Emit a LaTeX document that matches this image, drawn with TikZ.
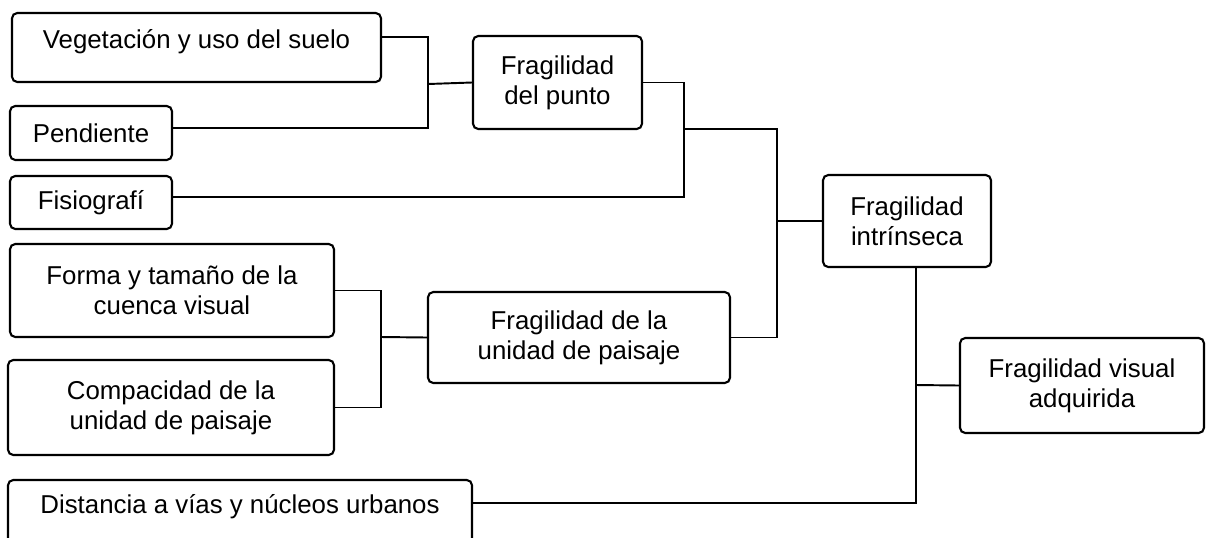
\documentclass[tikz,border=0pt]{standalone}
\usepackage{fontspec}
\setmainfont{Liberation Sans}

\begin{document}
\begin{tikzpicture}[x=0.2mm, y=-0.2mm,
  box/.style={draw, line width=1.2pt, rounded corners=3pt, align=center, inner sep=0pt, font=\fontsize{14.7}{17.1}\selectfont},
  link/.style={line width=1.1pt}]
\useasboundingbox (0,0) rectangle (1208,537);
\node[box, minimum width=7.38cm, minimum height=1.38cm, text depth=3.3mm] (veg) at (196.5,47.5) {Vegetación y uso del suelo};
\node[box, minimum width=3.24cm, minimum height=1.08cm] (pend) at (91,133) {Pendiente};
\node[box, minimum width=3.24cm, minimum height=1.06cm] (fisio) at (91,202.5) {Fisiografí};
\node[box, minimum width=6.48cm, minimum height=1.86cm] (forma) at (172,290.5) {Forma y tamaño de la\\cuenca visual};
\node[box, minimum width=6.52cm, minimum height=1.90cm] (compa) at (171,407.5) {Compacidad de la\\unidad de paisaje};
\node[box, minimum width=9.28cm, minimum height=1.30cm, text depth=3.3mm] (dist) at (240,512.5) {Distancia a vías y núcleos urbanos};
\node[box, minimum width=3.38cm, minimum height=1.86cm] (punto) at (557.5,82.5) {Fragilidad\\del punto};
\node[box, minimum width=6.04cm, minimum height=1.82cm] (paisaje) at (579,337.5) {Fragilidad de la\\unidad de paisaje};
\node[box, minimum width=3.36cm, minimum height=1.84cm] (intr) at (907,221) {Fragilidad\\intrínseca};
\node[box, minimum width=4.88cm, minimum height=1.90cm] (adq) at (1082,385.5) {Fragilidad visual\\adquirida};

\coordinate (j1) at (428,84);
\coordinate (j2) at (684,129);
\coordinate (j3) at (777,221);
\coordinate (j4) at (381,337);
\coordinate (j5) at (916,385);

\draw[link] ([yshift=2.1mm]veg.east) -| (j1) |- ([yshift=1mm]pend.east);
\draw[link] (j1) -- (punto.west);
\draw[link] (punto.east) -| (j2) |- ([yshift=1.1mm]fisio.east);
\draw[link] (j2) -| (j3) |- (paisaje.east);
\draw[link] (j3) -- (intr.west);
\draw[link] (forma.east) -| (j4) |- (compa.east);
\draw[link] (j4) -- (paisaje.west);
\draw[link] ([xshift=1.8mm]intr.south) |- ([yshift=1.9mm]dist.east);
\draw[link] (j5) -- (adq.west);
\end{tikzpicture}
\end{document}
